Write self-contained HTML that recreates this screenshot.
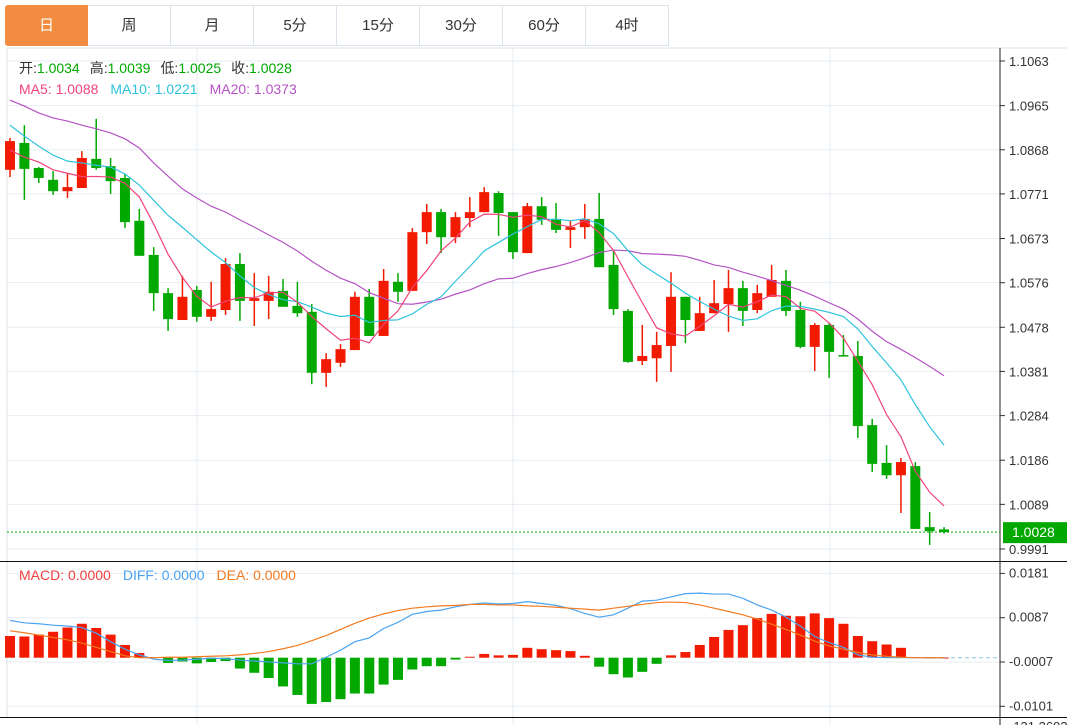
<!DOCTYPE html>
<html><head><meta charset="utf-8">
<style>
body{margin:0;background:#fff;width:1067px;height:725px;overflow:hidden;font-family:"Liberation Sans","Noto Sans CJK SC",sans-serif;}
.tabs{position:absolute;left:5px;top:5px;height:42px;display:flex;}
.tab{width:83px;height:41px;border:1px solid #dde3ea;border-left:none;box-sizing:border-box;text-align:center;line-height:40px;font-size:15px;color:#333;}
.tab.first{border-left:1px solid #dde3ea;background:#f28c40;color:#fff;border-radius:3px 0 0 3px;border-color:#f28c40;}
svg{position:absolute;left:0;top:0;}
</style></head><body>
<div class="tabs">
<div class="tab first">日</div>
<div class="tab">周</div>
<div class="tab">月</div>
<div class="tab">5分</div>
<div class="tab">15分</div>
<div class="tab">30分</div>
<div class="tab">60分</div>
<div class="tab">4时</div>
</div>
<svg id="chart" width="1067" height="725" style="top:0"></svg>
<script>
const opens=[1.0824,1.0883,1.0828,1.0802,1.0777,1.0784,1.0848,1.0832,1.0806,1.0712,1.0637,1.0553,1.0494,1.0560,1.0501,1.0516,1.0617,1.0536,1.0536,1.0558,1.0525,1.0512,1.0378,1.0400,1.0428,1.0545,1.0459,1.0578,1.0558,1.0687,1.0731,1.0676,1.0718,1.0731,1.0773,1.0731,1.0641,1.0744,1.0716,1.0692,1.0698,1.0716,1.0615,1.0514,1.0404,1.0410,1.0437,1.0545,1.0470,1.0509,1.0529,1.0564,1.0516,1.0545,1.0580,1.0516,1.0435,1.0483,1.0417,1.0415,1.0263,1.0180,1.0153,1.0173,1.0039,1.0034];
const closes=[1.0887,1.0826,1.0806,1.0777,1.0786,1.0850,1.0828,1.0799,1.0709,1.0635,1.0553,1.0496,1.0545,1.0501,1.0518,1.0617,1.0536,1.0542,1.0556,1.0523,1.0509,1.0378,1.0408,1.0430,1.0545,1.0459,1.0580,1.0556,1.0687,1.0731,1.0676,1.0720,1.0731,1.0775,1.0729,1.0643,1.0744,1.0714,1.0692,1.0698,1.0716,1.0610,1.0518,1.0402,1.0415,1.0439,1.0545,1.0494,1.0509,1.0531,1.0564,1.0514,1.0553,1.0582,1.0514,1.0435,1.0483,1.0424,1.0415,1.0261,1.0178,1.0153,1.0182,1.0035,1.0030,1.0028];
const highs=[1.0894,1.0922,1.0830,1.0821,1.0815,1.0865,1.0936,1.0850,1.0815,1.0738,1.0654,1.0564,1.0591,1.0569,1.0578,1.0630,1.0641,1.0597,1.0591,1.0584,1.0578,1.0529,1.0421,1.0441,1.0556,1.0562,1.0606,1.0597,1.0696,1.0749,1.0738,1.0731,1.0764,1.0786,1.0777,1.0731,1.0751,1.0764,1.0751,1.0712,1.0749,1.0773,1.0648,1.0518,1.0483,1.0468,1.0599,1.0545,1.0545,1.0582,1.0604,1.0580,1.0571,1.0615,1.0604,1.0534,1.0487,1.0487,1.0461,1.0448,1.0277,1.0219,1.0191,1.0182,1.0072,1.0039];
const lows=[1.0808,1.0758,1.0795,1.0769,1.0762,1.0784,1.0824,1.0771,1.0696,1.0635,1.0514,1.0470,1.0494,1.0490,1.0492,1.0505,1.0492,1.0481,1.0496,1.0523,1.0501,1.0353,1.0347,1.0391,1.0428,1.0459,1.0459,1.0534,1.0558,1.0661,1.0641,1.0663,1.0698,1.0731,1.0679,1.0628,1.0641,1.0703,1.0685,1.0652,1.0672,1.0610,1.0505,1.0400,1.0395,1.0358,1.0380,1.0443,1.0470,1.0509,1.0468,1.0481,1.0509,1.0545,1.0503,1.0432,1.0382,1.0367,1.0415,1.0235,1.0160,1.0145,1.0070,1.0035,1.0000,1.0025];
const ma5Head=[1.0867,1.0852,1.0841,1.0824];
const ma10Head=[1.0922,1.0898,1.0876,1.0856,1.0843,1.0839,1.0834,1.0830,1.0815];
const ma20Head=[1.0977,1.0964,1.0949,1.0938,1.0931,1.0922,1.0914,1.0905,1.0892,1.0872,1.0839,1.0810,1.0782,1.0762,1.0744,1.0731,1.0714,1.0698,1.0681];
const priceTicks=["1.1063","1.0965","1.0868","1.0771","1.0673","1.0576","1.0478","1.0381","1.0284","1.0186","1.0089","0.9991"];
const macdBars=[0.0046,0.0045,0.0049,0.0055,0.0064,0.0072,0.0063,0.0049,0.0027,0.0010,0.0001,-0.0011,-0.0008,-0.0012,-0.0009,-0.0007,-0.0023,-0.0032,-0.0043,-0.0061,-0.0079,-0.0098,-0.0094,-0.0088,-0.0076,-0.0076,-0.0057,-0.0047,-0.0025,-0.0018,-0.0018,-0.0004,0.0002,0.0008,0.0005,0.0006,0.0021,0.0018,0.0016,0.0014,0.0004,-0.0019,-0.0035,-0.0042,-0.0030,-0.0013,0.0005,0.0012,0.0027,0.0044,0.0059,0.0069,0.0084,0.0093,0.0089,0.0088,0.0094,0.0084,0.0072,0.0046,0.0035,0.0028,0.0021,0.0001,0,0];
const diffVals=[0.0079,0.0074,0.0072,0.0069,0.0067,0.0064,0.0052,0.0034,0.0018,0.0006,-0.0003,-0.0006,-0.0005,-0.0003,-0.0001,-0.0002,-0.0005,-0.0007,-0.0009,-0.0011,-0.0013,-0.0013,0.0001,0.0016,0.0034,0.0042,0.0062,0.0075,0.0092,0.0098,0.0101,0.0108,0.0113,0.0116,0.0114,0.0115,0.0119,0.0115,0.0111,0.0104,0.0094,0.0086,0.0091,0.0105,0.0120,0.0122,0.0129,0.0136,0.0137,0.0135,0.0135,0.0126,0.0112,0.0101,0.0086,0.0067,0.0045,0.0032,0.0022,0.0006,0.0001,0,0,0,0,0];
const deaVals=[0.0057,0.0053,0.0048,0.0043,0.0038,0.0031,0.0022,0.0013,0.0004,0.0000,0.0000,0.0001,0.0001,0.0002,0.0003,0.0004,0.0006,0.0009,0.0013,0.0019,0.0026,0.0036,0.0047,0.0060,0.0073,0.0084,0.0093,0.0100,0.0105,0.0108,0.0110,0.0111,0.0113,0.0113,0.0112,0.0112,0.0110,0.0109,0.0107,0.0105,0.0103,0.0101,0.0105,0.0109,0.0113,0.0117,0.0118,0.0117,0.0112,0.0105,0.0098,0.0091,0.0082,0.0071,0.0060,0.0048,0.0035,0.0025,0.0018,0.0011,0.0006,0.0003,0.0001,0,0,0];
const macdTicks=["0.0181","0.0087","-0.0007","-0.0101"];

const NS="http://www.w3.org/2000/svg";
const svg=document.getElementById('chart');
function mk(tag,attrs,parent){const e=document.createElementNS(NS,tag);for(const k in attrs)e.setAttribute(k,attrs[k]);(parent||svg).appendChild(e);return e;}
const xOf=i=>10+i*14.37;
const yP=p=>61+(1.1063-p)*4552;
const yM=v=>657.7-v*4713;
const RED="#f21a00",GREEN="#00a800";

let e;
e=mk('line',{x1:7,y1:48,x2:1067,y2:48,stroke:'#dde3ea'});

e=mk('line',{x1:7,y1:48,x2:7,y2:718,stroke:'#dde3ea'});

[197,513,830].forEach(x=>{const g=mk('line',{x1:x,y1:48,x2:x,y2:725,stroke:'#e6edf3'});

});
priceTicks.forEach(t=>{const y=yP(parseFloat(t));
const g=mk('line',{x1:7,y1:y,x2:1000,y2:y,stroke:'#e6edf3'});


mk('line',{x1:1000,y1:y,x2:1005,y2:y,stroke:'#333'});
const tx=mk('text',{x:1009,y:y+5,'font-size':13,fill:'#333'});tx.textContent=t;

});
macdTicks.forEach(t=>{const y=yM(parseFloat(t));
const g=mk('line',{x1:7,y1:y+1,x2:1000,y2:y+1,stroke:'#e6edf3'});


mk('line',{x1:1000,y1:y+1,x2:1005,y2:y+1,stroke:'#333'});
const tx=mk('text',{x:1009,y:y+5,'font-size':13,fill:'#333'});tx.textContent=t;

});
e=mk('line',{x1:1000,y1:48,x2:1000,y2:725,stroke:'#222'});

e=mk('line',{x1:0,y1:561.5,x2:1067,y2:561.5,stroke:'#111'});

e=mk('line',{x1:0,y1:717.5,x2:1067,y2:717.5,stroke:'#111'});

e=mk('text',{x:1009,y:731,'font-size':13,fill:'#333'});e.textContent='-131.3692';


closes.forEach((c,i)=>{const o=opens[i];const up=c>=o;const col=up?RED:GREEN;const x=xOf(i);
const g=mk('g',{});


mk('line',{x1:x,y1:yP(highs[i]),x2:x,y2:yP(lows[i]),stroke:col,'stroke-width':1.5},g);
const top=yP(Math.max(o,c)),bot=yP(Math.min(o,c));
mk('rect',{x:x-5,y:top,width:10,height:Math.max(1.5,bot-top),fill:col},g);});

function ma(n,head){return closes.map((c,i)=>{if(i<n-1)return head[i];let s=0;for(let k=i-n+1;k<=i;k++)s+=closes[k];return s/n;});}
[[ma(20,ma20Head),'#b553c4','ma20-line'],[ma(10,ma10Head),'#2ec3dc','ma10-line'],[ma(5,ma5Head),'#f0437a','ma5-line']].forEach(([arr,col,name])=>{
const p=mk('polyline',{points:arr.map((v,i)=>xOf(i)+','+yP(v)).join(' '),fill:'none',stroke:col,'stroke-width':1.2});

});

const lp=closes[closes.length-1];
e=mk('line',{x1:7,y1:yP(lp),x2:1000,y2:yP(lp),stroke:GREEN,'stroke-dasharray':'2,2'});

e=mk('rect',{x:1003,y:yP(lp)-10,width:64,height:21,fill:GREEN});

e=mk('text',{x:1012,y:yP(lp)+5,'font-size':14,fill:'#fff'});e.textContent=lp.toFixed(4);


const zy=yM(0);
e=mk('line',{x1:xOf(macdBars.length-1),y1:zy,x2:1000,y2:zy,stroke:'#8cc8e8','stroke-dasharray':'4,3'});

macdBars.forEach((v,i)=>{const x=xOf(i);const y=yM(v);
const r=mk('rect',{x:x-5,y:Math.min(y,zy),width:10,height:Math.max(0.8,Math.abs(y-zy)),fill:v>=0?RED:GREEN});

});
[[diffVals,'#4aa3f0','diff-line'],[deaVals,'#f47a20','dea-line']].forEach(([arr,col,name])=>{
const p=mk('polyline',{points:arr.map((v,i)=>xOf(i)+','+yM(v)).join(' '),fill:'none',stroke:col,'stroke-width':1.2});

});

function legend(y,items,name){const t=mk('text',{x:19,y:y,'font-size':14});


items.forEach(([s,c,gap])=>{const ts=mk('tspan',{fill:c},t);if(gap)ts.setAttribute('dx',gap);ts.textContent=s;});}
legend(73,[['开:','#333'],['1.0034',GREEN],['高:','#333',10],['1.0039',GREEN],['低:','#333',10],['1.0025',GREEN],['收:','#333',10],['1.0028',GREEN]],'ohlc-legend');
legend(94,[['MA5: 1.0088','#f0437a'],['MA10: 1.0221','#2ec3dc',12],['MA20: 1.0373','#b553c4',12]],'ma-legend');
legend(580,[['MACD: 0.0000','#f04040'],['DIFF: 0.0000','#4aa3f0',12],['DEA: 0.0000','#f47a20',12]],'macd-legend');
</script>
</body></html>
